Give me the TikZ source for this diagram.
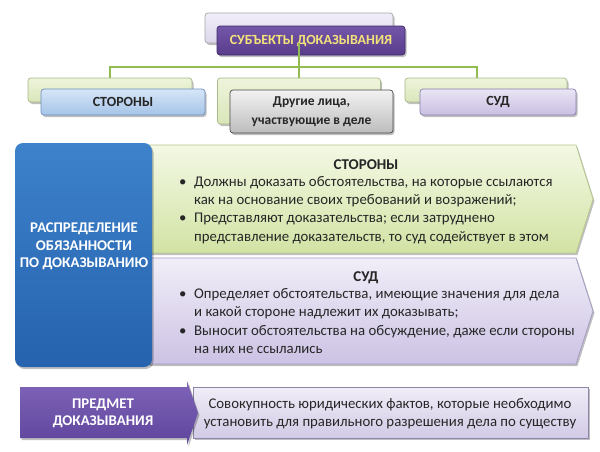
\documentclass[tikz,border=0pt]{standalone}
\usepackage{fontspec}
\setmainfont{Carlito}
\usetikzlibrary{shadows,calc}
\definecolor{conncol}{HTML}{92BC50}
\definecolor{txt}{HTML}{262626}
\definecolor{ttlyel}{HTML}{F3E27B}
\definecolor{lavA}{HTML}{F1EEF8}\definecolor{lavB}{HTML}{DDD6EC}
\definecolor{grnD}{HTML}{A8B98A}\definecolor{grnA}{HTML}{EEF4DC}\definecolor{grnB}{HTML}{D9E6B8}
\definecolor{purD}{HTML}{3F2A6A}\definecolor{purA}{HTML}{7456A8}\definecolor{purB}{HTML}{583C8A}
\definecolor{bluD}{HTML}{6F8FBF}\definecolor{bluA}{HTML}{D6E6F7}\definecolor{bluB}{HTML}{A6C4E8}
\definecolor{gryD}{HTML}{4A4A4A}\definecolor{gryA}{HTML}{F2F2F2}\definecolor{gryB}{HTML}{BDBDBD}
\definecolor{flvD}{HTML}{8A7FB0}\definecolor{flvA}{HTML}{EAE5F5}\definecolor{flvB}{HTML}{C9BEE2}
\definecolor{gaD}{HTML}{B5C98A}\definecolor{gaA}{HTML}{F3F8E4}\definecolor{gaB}{HTML}{D2E3A4}
\definecolor{laD}{HTML}{A29AC0}\definecolor{laA}{HTML}{F1EEF8}\definecolor{laB}{HTML}{CCC2E4}
\definecolor{bigA}{HTML}{3D82CB}\definecolor{bigB}{HTML}{2662AD}
\definecolor{blD}{HTML}{8C86A8}\definecolor{blA}{HTML}{F0EDF7}\definecolor{blB}{HTML}{D2CAE6}
\definecolor{ppA}{HTML}{7F64B8}\definecolor{ppB}{HTML}{5E459C}
\tikzset{
  shd/.style={drop shadow={shadow xshift=1.5pt,shadow yshift=-2pt,opacity=0.25,fill=black}},
  box/.style={rectangle,rounded corners=3pt,inner sep=0pt,line width=0.7pt,shd},
  backlav/.style={box,draw=black!35,top color=lavA,bottom color=lavB},
  backgrn/.style={box,draw=grnD,top color=grnA,bottom color=grnB},
  frontpur/.style={box,draw=purD,top color=purA,bottom color=purB},
  frontblu/.style={box,draw=bluD,top color=bluA,bottom color=bluB},
  frontgry/.style={box,draw=gryD,top color=gryA,bottom color=gryB},
  frontlav/.style={box,draw=flvD,top color=flvA,bottom color=flvB},
  conn/.style={draw=conncol,line width=2.6pt},
  lbl/.style={font=\fontsize{14}{16}\selectfont\bfseries,text=txt,align=center,inner sep=0pt},
  bodytxt/.style={font=\fontsize{14.8}{18.3}\selectfont,text=txt,align=left,inner sep=0pt},
  whitetxt/.style={font=\fontsize{14.8}{17.5}\selectfont\bfseries,text=white,align=center,inner sep=0pt},
}
\newcommand{\bul}{\makebox[15pt][l]{•}}
\newcommand{\ind}{\hspace*{15pt}}
\begin{document}
\begin{tikzpicture}[x=1pt,y=-1pt]
\useasboundingbox[fill=white] (0,0) rectangle (600,451);

% title
\node[backlav,minimum width=188pt,minimum height=30pt] (tb) at (299,28) {};
\node[frontpur,minimum width=188pt,minimum height=29pt,font=\fontsize{14}{16}\selectfont\bfseries,text=ttlyel] (tf) at (311,40.5) {СУБЪЕКТЫ ДОКАЗЫВАНИЯ};

% row back boxes
\node[backgrn,minimum width=164pt,minimum height=24pt] (lb) at (110,90) {};
\node[backgrn,minimum width=163pt,minimum height=46pt] (mb) at (299,101) {};
\node[backgrn,minimum width=162pt,minimum height=24pt] (rb) at (486,90) {};

% connectors
\coordinate (bus) at (299,67);
\coordinate (rtop) at ($(rb.north)+(-9,0)$);
\draw[conn] (tb.south) -- (mb.north);
\draw[conn] (lb.north) |- (bus) -| (rtop);

% row front boxes
\node[frontblu,minimum width=164pt,minimum height=26pt,lbl] (lf) at (123,102) {СТОРОНЫ};
\node[frontgry,minimum width=163pt,minimum height=43pt,lbl,font=\fontsize{13.5}{18.5}\selectfont\bfseries] (mf) at (311.5,111.5) {Другие лица,\\участвующие в деле};
\node[frontlav,minimum width=156pt,minimum height=26pt,lbl] (rf) at (498,102) {СУД};

% green arrow
\path[draw=gaD,line width=0.7pt,top color=gaA,bottom color=gaB,shd]
  (148,145) -- (576,145) -- (593,199) -- (576,253) -- (148,253) -- cycle;
\node[lbl,font=\fontsize{15}{16}\selectfont\bfseries] (st) at (366,165) {СТОРОНЫ};
\node[bodytxt,anchor=west] (sb) at (179,210) {\bul Должны доказать обстоятельства, на которые ссылаются\\
\ind как на основание своих требований и возражений;\\
\bul Представляют доказательства; если затруднено\\
\ind представление доказательств, то суд содействует в этом};

% lavender arrow
\path[draw=laD,line width=0.7pt,top color=laA,bottom color=laB,shd]
  (148,258) -- (576,258) -- (593,311) -- (576,364) -- (148,364) -- cycle;
\node[lbl,font=\fontsize{15}{16}\selectfont\bfseries] (sd) at (366,278) {СУД};
\node[bodytxt,anchor=west] (db) at (179,321) {\bul Определяет обстоятельства, имеющие значения для дела\\
\ind и какой стороне надлежит их доказывать;\\
\bul Выносит обстоятельства на обсуждение, даже если стороны\\
\ind на них не ссылались};

% blue box
\path[rounded corners=8pt,top color=bigA,bottom color=bigB,shd] (15,143) rectangle (152,367);
\node[whitetxt] (raspr) at (84,246.5) {РАСПРЕДЕЛЕНИЕ\\ОБЯЗАННОСТИ\\ПО ДОКАЗЫВАНИЮ};

% bottom row
\path[draw=blD,line width=0.7pt,top color=blA,bottom color=blB,shd] (193,387) rectangle (588,438);
\node[bodytxt,align=center] (sov) at (390,414) {Совокупность юридических фактов, которые необходимо\\установить для правильного разрешения дела по существу};
\path[top color=ppA,bottom color=ppB,shd]
  (20,387) -- (187,387) -- (187,381) -- (198,413) -- (187,445) -- (187,438) -- (20,438) -- cycle;
\node[whitetxt] (pred) at (103,413.5) {ПРЕДМЕТ\\ДОКАЗЫВАНИЯ};
\end{tikzpicture}
\end{document}
